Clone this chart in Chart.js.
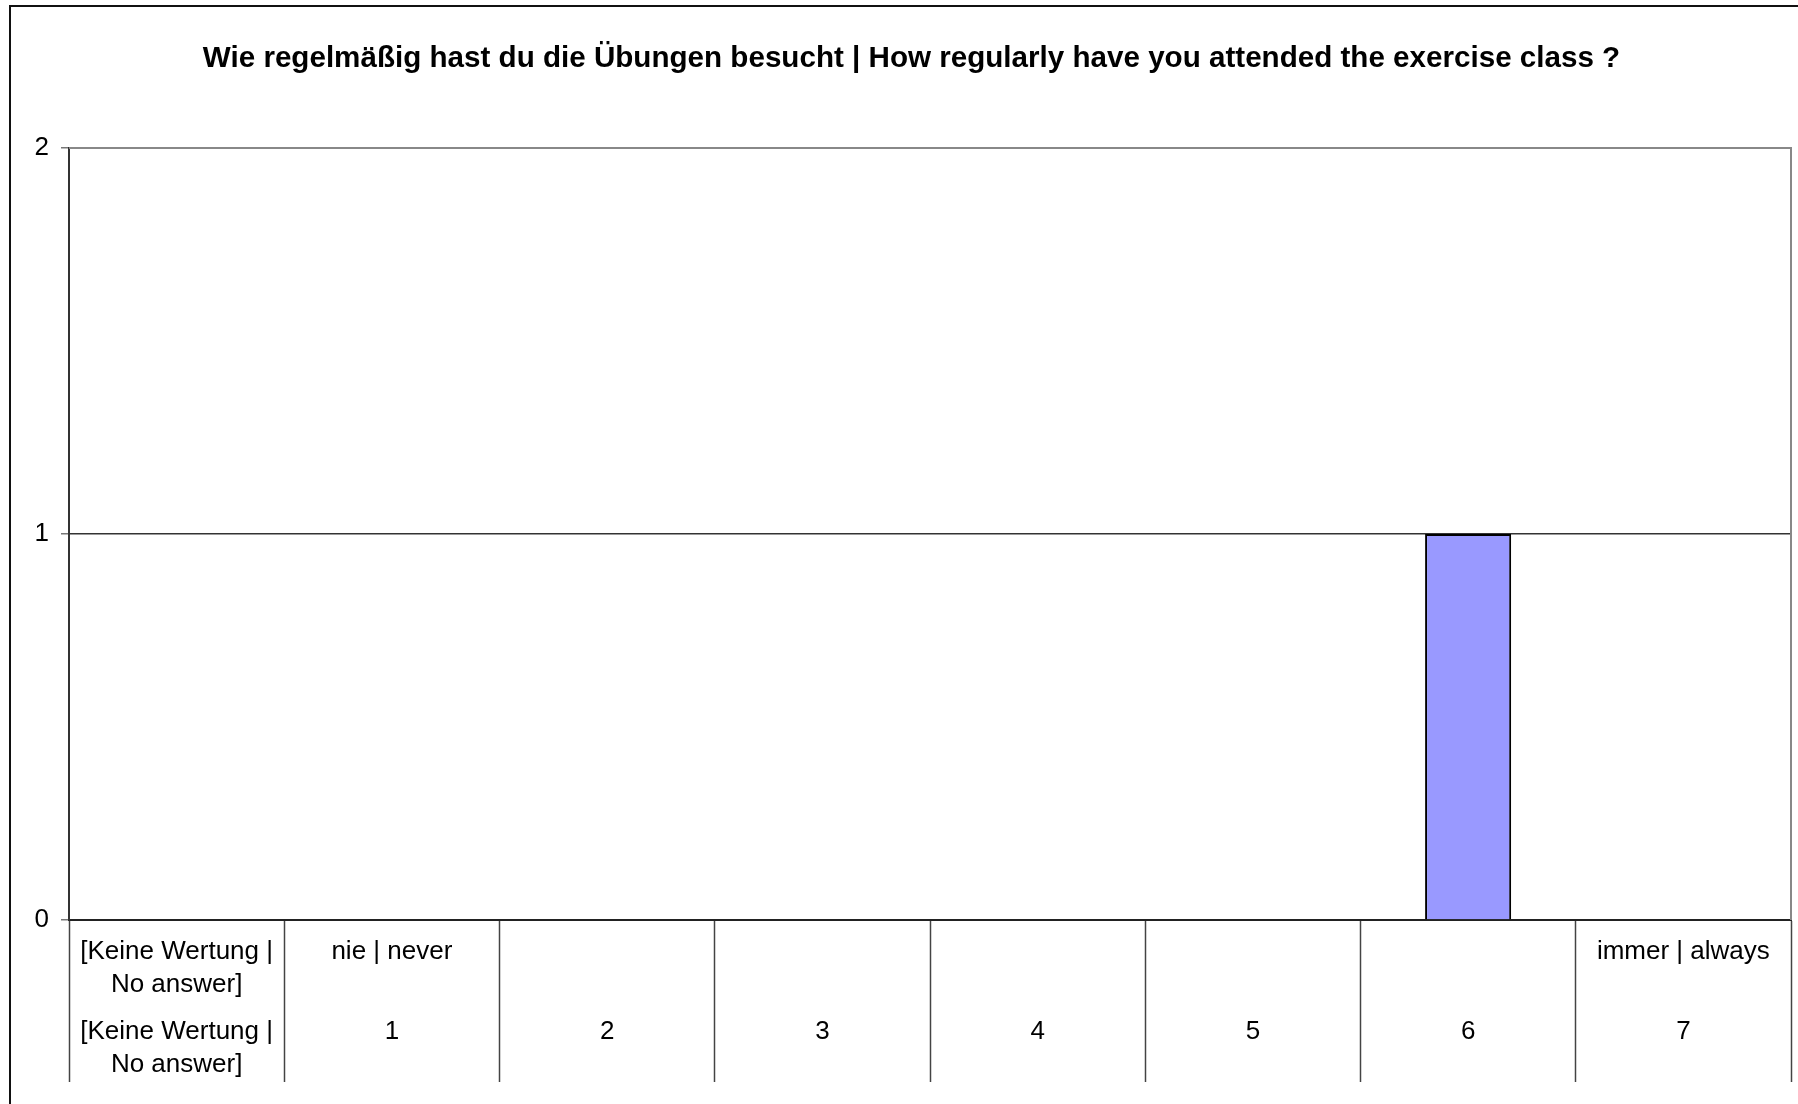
<!DOCTYPE html>
<html>
<head>
<meta charset="utf-8">
<title>Übungen besucht</title>
<script src="https://cdn.jsdelivr.net/npm/chart.js@4/dist/chart.umd.min.js"></script>
<style>
  html, body { margin: 0; padding: 0; background: #fff; overflow: hidden; }
  #frame {
    position: absolute; left: 9px; top: 5px;
    width: 2000px; height: 2000px;
    border: 2px solid #111;
  }
  #chart { position: absolute; left: 0; top: 0; }
</style>
</head>
<body>
<div id="frame"></div>
<canvas id="chart" width="1798" height="1104"></canvas>
<script>
// categories, split into the two label rows Excel shows under the axis
const topRowLabels = [["[Keine Wertung |", "No answer]"], "nie | never", "", "", "", "", "", "immer | always"];
const bottomRowLabels = [["[Keine Wertung |", "No answer]"], "1", "2", "3", "4", "5", "6", "7"];
const counts = [0, 0, 0, 0, 0, 0, 1, 0];
const yTicks = [0, 1, 2];

const titleText = "Wie regelmäßig hast du die Übungen besucht | How regularly have you attended the exercise class ?";
const fontFamily = '"Liberation Sans", Arial, sans-serif';

// grey plot area border on top and right, like the Excel original
const plotFrame = {
  id: "plotFrame",
  afterDraw(chart) {
    const { ctx, chartArea } = chart;
    ctx.save();
    ctx.strokeStyle = "#888";
    ctx.lineWidth = 2;
    ctx.beginPath();
    ctx.moveTo(chartArea.left, chartArea.top);
    ctx.lineTo(chartArea.right, chartArea.top);
    ctx.lineTo(chartArea.right, chartArea.bottom);
    ctx.stroke();
    ctx.restore();
  }
};

new Chart(document.getElementById("chart"), {
  type: "bar",
  data: {
    labels: topRowLabels,
    datasets: [{
      data: counts,
      backgroundColor: "#9999ff",
      borderColor: "#000",
      borderWidth: 2,
      barPercentage: 0.4,
      categoryPercentage: 1,
      xAxisID: "x"
    }]
  },
  options: {
    responsive: false,
    animation: false,
    devicePixelRatio: 1,
    layout: { padding: { left: 32, right: 7, top: 0, bottom: 0 } },
    plugins: {
      legend: { display: false },
      tooltip: { enabled: false },
      title: {
        display: true,
        text: titleText,
        color: "#000",
        font: { family: fontFamily, size: 29.6, weight: "bold", lineHeight: 1.2 },
        padding: { top: 41, bottom: 71.5 }
      }
    },
    scales: {
      x: {
        type: "category",
        position: "bottom",
        weight: 0,
        offset: true,
        grid: {
          offset: true,
          drawOnChartArea: false,
          drawTicks: true,
          tickLength: 162,
          tickColor: "#444",
          tickWidth: 1.5
        },
        border: { display: true, color: "#222", width: 2 },
        ticks: {
          color: "#000",
          font: { family: fontFamily, size: 26, lineHeight: 1.28 },
          padding: -147,
          autoSkip: false,
          maxRotation: 0,
          minRotation: 0
        },
        afterFit(scale) { scale.height = 80; }
      },
      x2: {
        type: "category",
        axis: "x",
        position: "bottom",
        weight: 1,
        labels: bottomRowLabels,
        offset: true,
        grid: { display: false, drawTicks: false },
        border: { display: false },
        ticks: {
          color: "#000",
          font: { family: fontFamily, size: 26, lineHeight: 1.28 },
          padding: 15,
          autoSkip: false,
          maxRotation: 0,
          minRotation: 0
        },
        afterFit(scale) { scale.height = 104; }
      },
      y: {
        min: yTicks[0],
        max: yTicks[yTicks.length - 1],
        afterBuildTicks(scale) {
          scale.ticks = yTicks.map(v => ({ value: v }));
        },
        grid: {
          color: "#333",
          lineWidth: 1.5,
          tickLength: 8,
          tickColor: "#777",
          tickWidth: 1.5
        },
        border: { display: true, color: "#333", width: 2 },
        ticks: {
          color: "#000",
          font: { family: fontFamily, size: 26 },
          padding: 12
        },
        afterFit(scale) { scale.width = 37; }
      }
    }
  },
  plugins: [plotFrame]
});
</script>
</body>
</html>
